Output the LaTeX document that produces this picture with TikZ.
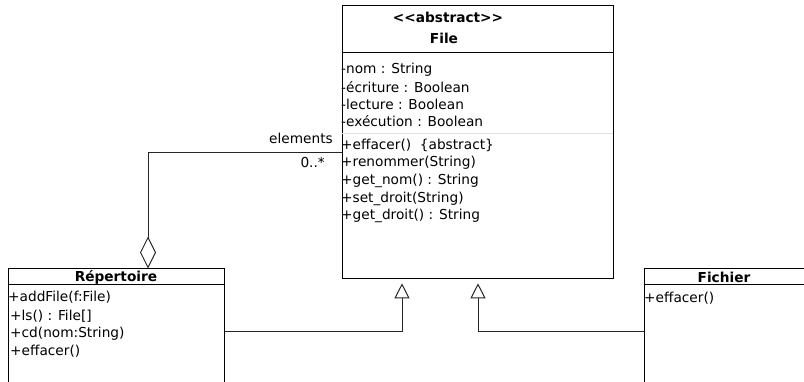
\documentclass[tikz,border=0pt]{standalone}
\usepackage{fontspec}
\setmainfont{DejaVu Sans}[Ligatures=TeXOff]
\usetikzlibrary{arrows.meta}
\begin{document}
\begin{tikzpicture}[x=1pt,y=-1pt,
  every node/.style={font=\fontsize{13.7}{16}\selectfont},
  box/.style={draw,line width=1pt,inner sep=0pt,anchor=north west},
  txt/.style={anchor=west,inner sep=0pt},
  ttl/.style={inner sep=0pt,font=\fontsize{13.7}{16}\selectfont\bfseries},
  conn/.style={line width=1pt,draw=black!85},
  gen/.style={conn,-{Triangle[open,length=15pt,width=15pt,line width=1pt]}},
  aggr/.style={conn,-{Diamond[open,length=32pt,width=16pt,line width=1pt]}}]
\useasboundingbox (0,0) rectangle (804,382);
\clip (0,0) rectangle (804,382);
\fill[white] (0,0) rectangle (804,382);
% File
\node[box,line width=1.3pt,minimum width=271pt,minimum height=273pt] (file) at (342,5) {};
\draw[line width=1pt] (342,53) -- (613,53);
\draw[line width=0.8pt,black!12] (342,133) -- (613,133);
\node[ttl] (fs) at (448,17) {<<abstract>>};
\node[ttl] (fn) at (444,38) {File};
\node[txt] (a1) at (341,70) {-nom : String};
\node[txt] (a2) at (341,87) {-écriture : Boolean};
\node[txt] (a3) at (341,104) {-lecture : Boolean};
\node[txt] (a4) at (341,121) {-exécution : Boolean};
\node[txt] (m1) at (341,145) {+effacer()\ \ \{abstract\}};
\node[txt] (m2) at (341,163) {+renommer(String)};
\node[txt] (m3) at (341,181) {+get\_nom() : String};
\node[txt] (m4) at (341,199) {+set\_droit(String)};
\node[txt] (m5) at (341,216) {+get\_droit() : String};
% Repertoire
\node[box,minimum width=216pt,minimum height=140pt] (rep) at (8,268.5) {};
\draw[line width=1pt] (8,285) -- (224,285);
\node[ttl] (rn) at (116,277) {Répertoire};
\node[txt] (r1) at (8,297) {+addFile(f:File)};
\node[txt] (r2) at (10,316) {+ls() : File[]};
\node[txt] (r3) at (10,334) {+cd(nom:String)};
\node[txt] (r4) at (10,351) {+effacer()};
% Fichier
\node[box,minimum width=170pt,minimum height=140pt] (fic) at (644,268.5) {};
\draw[line width=1pt] (644,285) -- (810,285);
\node[ttl] (fcn) at (724,277) {Fichier};
\node[txt] (f1) at (644,298) {+effacer()};
% connectors
\coordinate (agtop) at (148,153);
\draw[aggr] (file.west |- agtop) -- (agtop) -- (rep.north -| agtop);
\node[inner sep=0pt,anchor=east] (el) at (333,138) {elements};
\node[inner sep=0pt,anchor=east] (mult) at (325,163) {0..*};
\coordinate (g1) at (402,332);
\coordinate (g2) at (478,332);
\draw[gen,shorten >=4pt] (rep.east |- g1) -- (g1) -- (file.south -| g1);
\draw[gen,shorten >=4pt] (fic.west |- g2) -- (g2) -- (file.south -| g2);
\end{tikzpicture}
\end{document}
